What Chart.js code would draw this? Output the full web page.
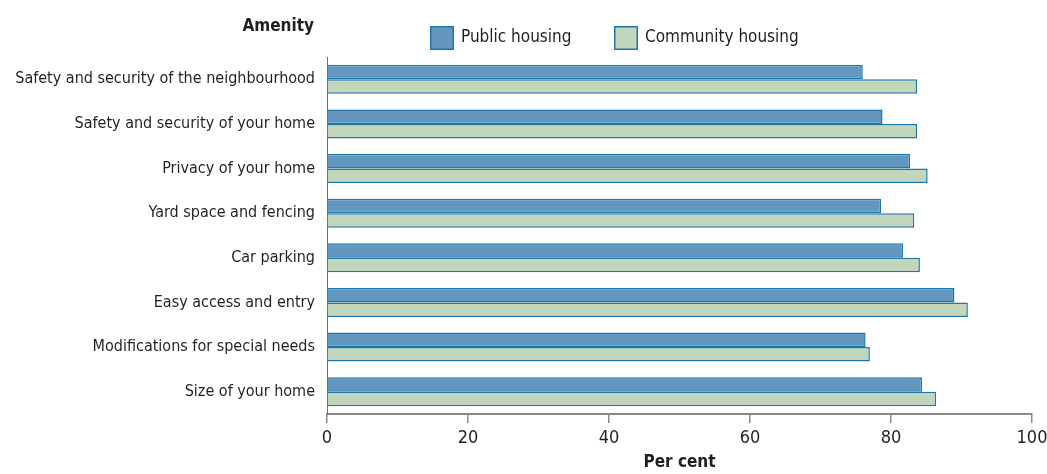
<!DOCTYPE html>
<html>
<head>
<meta charset="utf-8">
<script src="https://cdn.jsdelivr.net/npm/chart.js@4.4.1/dist/chart.umd.min.js"></script>
<style>
  html, body { margin: 0; padding: 0; background: #fff; }
  #wrap { position: relative; width: 1047px; height: 474px; }
</style>
</head>
<body>
<div id="wrap"><canvas id="chart"></canvas></div>
<script>
const amenities = [
  'Safety and security of the neighbourhood',
  'Safety and security of your home',
  'Privacy of your home',
  'Yard space and fencing',
  'Car parking',
  'Easy access and entry',
  'Modifications for special needs',
  'Size of your home',
];
const publicHousing = [76.0, 78.8, 82.7, 78.6, 81.7, 89.0, 76.4, 84.4];
const communityHousing = [83.7, 83.7, 85.2, 83.3, 84.1, 90.9, 77.0, 86.4];
const xTicks = [0, 20, 40, 60, 80, 100];

const FONT = "'Liberation Sans Narrow', 'DejaVu Sans Condensed', 'Arial Narrow', sans-serif";
const INK = '#231f20';
const EDGE = '#1b78a9';

// axis heading on the left and a hand-placed legend above the bars
const headerPlugin = {
  id: 'header',
  afterDraw(chart) {
    const ctx = chart.ctx;
    ctx.save();
    ctx.fillStyle = INK;
    ctx.textBaseline = 'middle';
    ctx.font = `bold 17px ${FONT}`;
    ctx.textAlign = 'right';
    ctx.fillText('Amenity', 314, 27);

    const spots = [430, 614];
    ctx.font = `17px ${FONT}`;
    ctx.textAlign = 'left';
    chart.data.datasets.forEach((ds, i) => {
      const x = spots[i];
      ctx.fillStyle = ds.backgroundColor;
      ctx.fillRect(x, 26, 24, 24);
      ctx.strokeStyle = ds.borderColor;
      ctx.lineWidth = 1.5;
      ctx.strokeRect(x + 0.75, 26.75, 22.5, 22.5);
      ctx.fillStyle = INK;
      ctx.fillText(ds.label, x + 31, 38);
    });
    ctx.restore();
  },
};

new Chart(document.getElementById('chart'), {
  type: 'bar',
  data: {
    labels: amenities,
    datasets: [
      {
        label: 'Public housing',
        data: publicHousing,
        backgroundColor: '#6497c0',
        borderColor: EDGE,
        borderWidth: 1.5,
        categoryPercentage: 0.65,
        barPercentage: 1.0,
      },
      {
        label: 'Community housing',
        data: communityHousing,
        backgroundColor: '#c2d6bb',
        borderColor: EDGE,
        borderWidth: 1.5,
        categoryPercentage: 0.65,
        barPercentage: 1.0,
      },
    ],
  },
  options: {
    indexAxis: 'y',
    responsive: true,
    maintainAspectRatio: false,
    animation: false,
    layout: { padding: { top: 57, right: 15, bottom: 0, left: 0 } },
    plugins: {
      legend: { display: false },
      tooltip: { enabled: false },
    },
    scales: {
      x: {
        min: 0,
        max: 100,
        afterBuildTicks: scale => { scale.ticks = xTicks.map(v => ({ value: v })); },
        afterFit: scale => {
          scale.height = 60;
          scale.paddingRight = 0;
        },
        grid: { drawOnChartArea: false, drawTicks: true, tickLength: 9, color: '#8a8a8a', lineWidth: 1.5 },
        border: { display: true, color: '#8a8a8a', width: 2 },
        ticks: { color: INK, padding: 5, font: { family: FONT, size: 18 } },
        title: {
          display: true,
          text: 'Per cent',
          color: INK,
          padding: { top: 2, bottom: 1 },
          font: { family: FONT, size: 17, weight: 'bold' },
        },
      },
      y: {
        afterFit: scale => { scale.width = 327; },
        grid: { display: true, drawOnChartArea: false, drawTicks: false },
        border: { display: true, color: '#6d6d6d', width: 1 },
        ticks: { color: INK, padding: 12, font: { family: FONT, size: 16 } },
      },
    },
  },
  plugins: [headerPlugin],
});
</script>
</body>
</html>
